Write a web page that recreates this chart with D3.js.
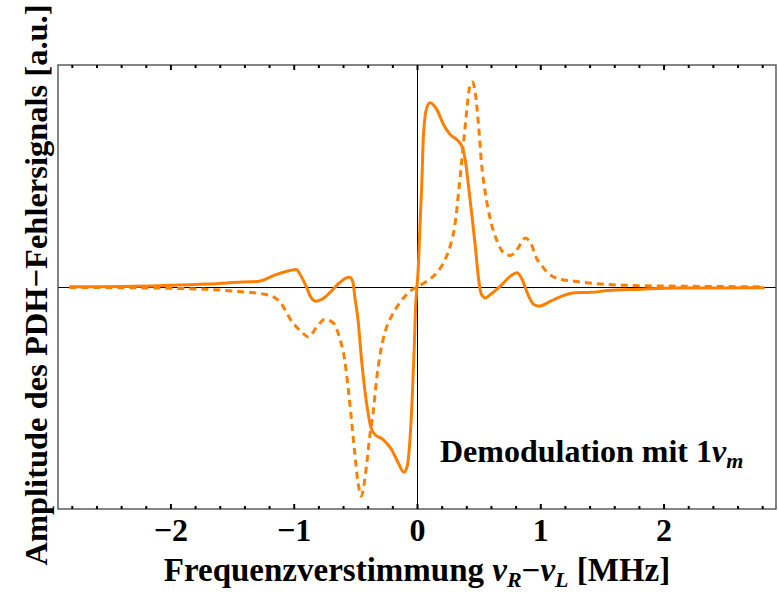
<!DOCTYPE html>
<html>
<head>
<meta charset="utf-8">
<script src="https://cdn.jsdelivr.net/npm/d3@7"></script>
<style>
  html, body { margin: 0; padding: 0; background: #fff; }
  svg { display: block; }
  text { font-family: "Liberation Serif", "Times New Roman", serif; font-weight: bold; fill: #000; }
</style>
</head>
<body>
<svg id="chart" width="778" height="593"></svg>
<script>
// Detuning (MHz) and PDH error signal, demodulated at 1·ν_m
const solidX = [-2.82, -2.09, -1.69, -1.42, -1.28, -1.143, -1.062, -0.98, -0.94, -0.90, -0.858, -0.818, -0.777, -0.736,
  -0.628, -0.573, -0.546, -0.519, -0.505, -0.478, -0.451, -0.424, -0.397, -0.377, -0.342, -0.275, -0.206, -0.152,
  -0.106, -0.079, -0.057, -0.038, -0.022, -0.011, 0,
  0.011, 0.024, 0.038, 0.052, 0.079, 0.106, 0.16, 0.215, 0.269, 0.323, 0.364, 0.391, 0.418, 0.446, 0.473, 0.500,
  0.523, 0.554, 0.595, 0.676, 0.758, 0.812, 0.853, 0.894, 0.948, 0.989, 1.084, 1.142, 1.277, 1.413, 1.549, 1.82,
  2.091, 2.498, 2.82];
const solidY = [0.001, 0.006, 0.013, 0.022, 0.026, 0.056, 0.070, 0.079, 0.048, 0.004, -0.049, -0.064, -0.057, -0.041,
  0.019, 0.041, 0.044, 0.020, -0.042, -0.15, -0.32, -0.46, -0.567, -0.627, -0.664, -0.687, -0.732, -0.792,
  -0.834, -0.807, -0.687, -0.49, -0.267, -0.087, 0,
  0.093, 0.274, 0.45, 0.679, 0.807, 0.830, 0.80, 0.732, 0.687, 0.664, 0.634, 0.574, 0.454, 0.319, 0.184, 0.034,
  -0.034, -0.049, -0.034, 0.004, 0.049, 0.064, 0.034, -0.026, -0.079, -0.086, -0.064, -0.049, -0.026, -0.024, -0.016, -0.010,
  -0.005, -0.004, -0.003];

const dashedX = [-2.82, -2.09, -1.69, -1.39, -1.225, -1.117, -1.008, -0.94, -0.88, -0.818, -0.75, -0.681, -0.628,
  -0.587, -0.560, -0.532, -0.505, -0.478, -0.451, -0.432, -0.410, -0.383, -0.356, -0.328, -0.302, -0.261, -0.206,
  -0.139, -0.057, 0,
  0.079, 0.160, 0.228, 0.269, 0.310, 0.337, 0.364, 0.391, 0.413, 0.432, 0.451, 0.473, 0.500, 0.523, 0.554, 0.595,
  0.650, 0.703, 0.758, 0.812, 0.880, 0.921, 0.975, 1.006, 1.06, 1.142, 1.277, 1.413, 1.549, 1.82, 2.227, 2.82];
const dashedY = [-0.002, -0.005, -0.011, -0.023, -0.034, -0.064, -0.161, -0.20, -0.225, -0.184, -0.146, -0.161, -0.229,
  -0.327, -0.447, -0.597, -0.747, -0.882, -0.942, -0.897, -0.807, -0.672, -0.567, -0.417, -0.312, -0.206, -0.131,
  -0.071, -0.019, 0,
  0.026, 0.064, 0.124, 0.184, 0.289, 0.424, 0.574, 0.724, 0.845, 0.912, 0.923, 0.875, 0.724, 0.559, 0.424, 0.304,
  0.206, 0.154, 0.142, 0.169, 0.221, 0.199, 0.124, 0.101, 0.064, 0.038, 0.026, 0.017, 0.011, 0.006, 0.003, 0.001];

const majorTicks = [-2, -1, 0, 1, 2];
const tickLabels = ["\u22122", "\u22121", "0", "1", "2"];
const minorTicks = d3.range(-14, 15).map(i => +(i * 0.2).toFixed(1));

const svg = d3.select("#chart");
const W = 778, H = 593;
const frame = { left: 58, right: 776, top: 65, bottom: 509 };

const x = d3.scaleLinear().domain([-2.912, 2.912]).range([frame.left, frame.right]);
const y = d3.scaleLinear().domain([-1, 1]).range([frame.bottom, frame.top]);

svg.append("rect").attr("width", W).attr("height", H).attr("fill", "#fff");

// zero axes
const x0 = Math.round(x(0)) + 0.5, y0 = Math.round(y(0)) + 0.5;
svg.append("line").attr("x1", frame.left).attr("x2", frame.right)
  .attr("y1", y0).attr("y2", y0).attr("stroke", "#000").attr("stroke-width", 1);
svg.append("line").attr("x1", x0).attr("x2", x0)
  .attr("y1", frame.top).attr("y2", frame.bottom).attr("stroke", "#000").attr("stroke-width", 1);

// curves
const orange = "#ff8000";
const line = d3.line().x(d => x(d[0])).y(d => y(d[1])).curve(d3.curveMonotoneX);
const dashedPts = dashedX.map((v, i) => [v, dashedY[i]]);
const solidPts = solidX.map((v, i) => [v, solidY[i]]);

svg.append("path").datum(dashedPts).attr("d", line)
  .attr("fill", "none").attr("stroke", orange).attr("stroke-width", 3)
  .attr("stroke-dasharray", "7,5");
svg.append("path").datum(solidPts).attr("d", line)
  .attr("fill", "none").attr("stroke", orange).attr("stroke-width", 3)
  .attr("stroke-linejoin", "round");

// frame
svg.append("rect").attr("x", frame.left).attr("y", frame.top)
  .attr("width", frame.right - frame.left).attr("height", frame.bottom - frame.top)
  .attr("fill", "none").attr("stroke", "#444").attr("stroke-width", 1.3);

// ticks on bottom and top edges, pointing inward
const bottomAxis = d3.axisBottom(x).tickValues(majorTicks).tickFormat((d, i) => tickLabels[i])
  .tickSizeInner(-5).tickSizeOuter(0);
const gB = svg.append("g").attr("transform", `translate(0,${frame.bottom})`).call(bottomAxis);
gB.select(".domain").remove();
gB.selectAll(".tick line").attr("stroke", "#000").attr("stroke-width", 2);
gB.selectAll(".tick text").attr("font-size", 32).attr("font-family", "Liberation Serif, serif")
  .attr("font-weight", "bold").attr("dy", null).attr("y", 32);

const bottomMinor = d3.axisBottom(x).tickValues(minorTicks.filter(v => !majorTicks.includes(v)))
  .tickFormat("").tickSizeInner(-3).tickSizeOuter(0);
const gBm = svg.append("g").attr("transform", `translate(0,${frame.bottom})`).call(bottomMinor);
gBm.select(".domain").remove();
gBm.selectAll(".tick line").attr("stroke", "#000").attr("stroke-width", 2);

const topMajor = d3.axisTop(x).tickValues(majorTicks).tickFormat("").tickSizeInner(-5).tickSizeOuter(0);
const gT = svg.append("g").attr("transform", `translate(0,${frame.top})`).call(topMajor);
gT.select(".domain").remove();
gT.selectAll(".tick line").attr("stroke", "#000").attr("stroke-width", 2);

const topMinor = d3.axisTop(x).tickValues(minorTicks.filter(v => !majorTicks.includes(v)))
  .tickFormat("").tickSizeInner(-3).tickSizeOuter(0);
const gTm = svg.append("g").attr("transform", `translate(0,${frame.top})`).call(topMinor);
gTm.select(".domain").remove();
gTm.selectAll(".tick line").attr("stroke", "#000").attr("stroke-width", 2);

// x-axis title
const xt = svg.append("text").attr("x", x(0)).attr("y", 581).attr("text-anchor", "middle")
  .attr("font-size", 33);
xt.append("tspan").text("Frequenzverstimmung ");
xt.append("tspan").attr("font-style", "italic").text("\u03BD");
xt.append("tspan").attr("font-style", "italic").attr("font-size", 22).attr("dy", 6).text("R");
xt.append("tspan").attr("dy", -6).text("\u2212");
xt.append("tspan").attr("font-style", "italic").text("\u03BD");
xt.append("tspan").attr("font-style", "italic").attr("font-size", 22).attr("dy", 6).text("L");
xt.append("tspan").attr("dy", -6).text(" [MHz]");

// y-axis title
svg.append("text").attr("transform", `translate(46.5,285) rotate(-90)`)
  .attr("text-anchor", "middle").attr("font-size", 32.5)
  .text("Amplitude des PDH\u2212Fehlersignals [a.u.]");

// annotation
const ann = svg.append("text").attr("x", 440).attr("y", 462).attr("font-size", 32);
ann.append("tspan").text("Demodulation mit 1");
ann.append("tspan").attr("font-style", "italic").text("\u03BD");
ann.append("tspan").attr("font-style", "italic").attr("font-size", 22).attr("dy", 6).text("m");
</script>
</body>
</html>
